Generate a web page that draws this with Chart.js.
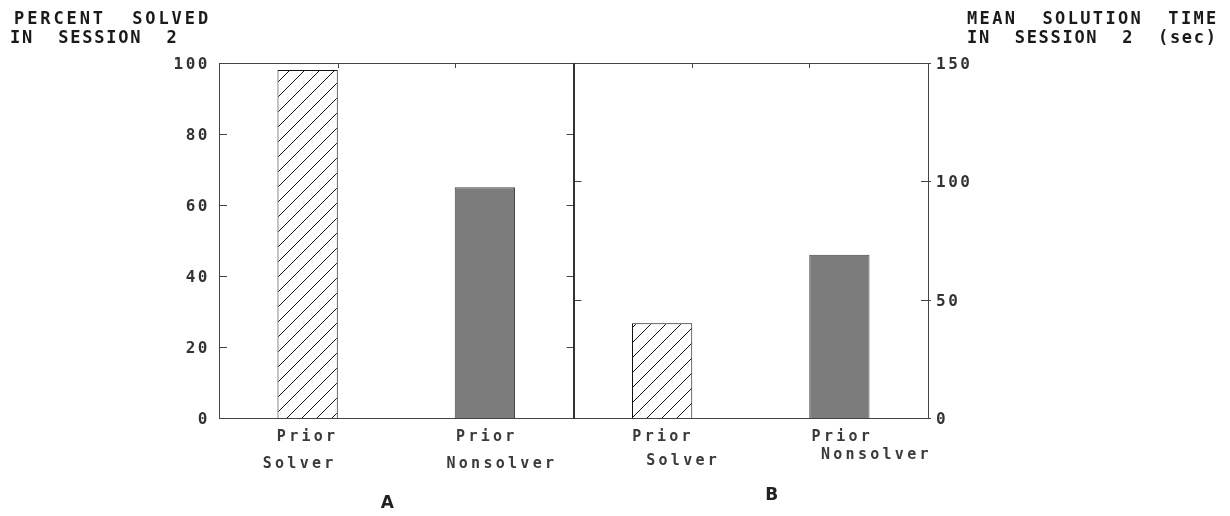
<!DOCTYPE html>
<html>
<head>
<meta charset="utf-8">
<script src="https://cdn.jsdelivr.net/npm/chart.js@4.4.1/dist/chart.umd.min.js"></script>
<style>
  body { margin: 0; background: #fff; }
  #wrap { position: relative; width: 1230px; height: 516px; }
  #chart { position: absolute; left: 0; top: 0; }
  .ttl { position: absolute; font-family: "DejaVu Sans Mono", monospace; font-size: 17px; font-weight: bold;
         color: #1a1a1a; white-space: pre; line-height: 19px; }
</style>
</head>
<body>
<div id="wrap">
  <canvas id="chart" width="1230" height="516"></canvas>
  <div class="ttl" style="left:14px; top:9px; letter-spacing:2.9px;">PERCENT  SOLVED</div>
  <div class="ttl" style="left:10px; top:28px; letter-spacing:1.8px;">IN  SESSION  2</div>
  <div class="ttl" style="left:967px; top:9px; letter-spacing:2.35px;">MEAN  SOLUTION  TIME</div>
  <div class="ttl" style="left:967px; top:28px; letter-spacing:1.7px;">IN  SESSION  2  (sec)</div>
</div>
<script>
// values
const categoryLabels = [['Prior', 'Solver'], ['Prior', 'Nonsolver'], ['Prior', 'Solver'], ['Prior', 'Nonsolver']];
const percentSolved = [98, 65];   // panel A, left axis
const meanTime = [40, 69];        // panel B, right axis (sec)
const percentTicks = [0, 20, 40, 60, 80, 100];
const timeTicks = [0, 50, 100, 150];
const panelLetters = ['A', 'B'];

const grey = 'rgb(124,124,124)';

// diagonal hatch fill for the "prior solver" bars
function makeHatch() {
  const c = document.createElement('canvas');
  c.width = 15; c.height = 15;
  const g = c.getContext('2d');
  g.fillStyle = '#fff';
  g.fillRect(0, 0, 15, 15);
  g.strokeStyle = '#111';
  g.lineWidth = 1;
  g.beginPath();
  g.moveTo(0, 15); g.lineTo(15, 0);
  g.moveTo(-1, 1); g.lineTo(1, -1);
  g.moveTo(14, 16); g.lineTo(16, 14);
  g.stroke();
  return g.createPattern(c, 'repeat');
}
const hatch = makeHatch();

// frame, tick marks, category labels and panel letters
const framePlugin = {
  id: 'frame',
  beforeDraw(chart) {
    chart.ctx.letterSpacing = '2.5px';
  },
  afterDraw(chart) {
    const ctx = chart.ctx;
    const a = chart.chartArea;
    const x = chart.scales.x, yA = chart.scales.yA, yB = chart.scales.yB;
    const mid = (x.getPixelForValue(1) + x.getPixelForValue(2)) / 2;
    ctx.save();
    ctx.strokeStyle = '#444';
    ctx.lineWidth = 1;
    ctx.beginPath();
    ctx.moveTo(a.left, a.top + 0.5); ctx.lineTo(a.right, a.top + 0.5);
    ctx.moveTo(a.left, a.bottom + 0.5); ctx.lineTo(a.right, a.bottom + 0.5);
    ctx.moveTo(a.left + 0.5, a.top); ctx.lineTo(a.left + 0.5, a.bottom);
    ctx.moveTo(a.right + 0.5, a.top); ctx.lineTo(a.right + 0.5, a.bottom);
    // left axis ticks (inside) and their mirror on the divider
    percentTicks.forEach(v => {
      const py = Math.round(yA.getPixelForValue(v)) + 0.5;
      ctx.moveTo(a.left, py); ctx.lineTo(a.left + 8, py);
      ctx.moveTo(mid - 7, py); ctx.lineTo(mid, py);
    });
    // right axis ticks and their mirror on the divider
    timeTicks.forEach(v => {
      const py = Math.round(yB.getPixelForValue(v)) + 0.5;
      ctx.moveTo(a.right - 7, py); ctx.lineTo(a.right + 3, py);
      ctx.moveTo(mid, py); ctx.lineTo(mid + 8, py);
    });
    // small ticks on the top line at the bar edges
    const m0 = chart.getDatasetMeta(0).data, m1 = chart.getDatasetMeta(1).data;
    const edges = [m0[0].x + m0[0].width / 2, m0[1].x - m0[1].width / 2,
                   m1[2].x + m1[2].width / 2, m1[3].x - m1[3].width / 2];
    edges.forEach(ex => {
      const px = Math.round(ex) + 0.5;
      ctx.moveTo(px, a.top); ctx.lineTo(px, a.top + 5);
    });
    ctx.stroke();

    // divider between the two panels
    ctx.strokeStyle = '#333';
    ctx.lineWidth = 2;
    ctx.beginPath();
    ctx.moveTo(Math.round(mid), a.top); ctx.lineTo(Math.round(mid), a.bottom + 1);
    ctx.stroke();

    // category labels
    const dx = [[0, -8], [2, 17], [1, 21], [3, 37]];
    const dy2 = [46, 46, 43, 37];
    ctx.fillStyle = '#3a3a3a';
    ctx.font = 'bold 15px "DejaVu Sans Mono"';
    ctx.letterSpacing = '3.3px';
    ctx.textAlign = 'center';
    ctx.textBaseline = 'middle';
    categoryLabels.forEach((lab, i) => {
      const cx = x.getPixelForValue(i);
      ctx.fillText(lab[0], cx + dx[i][0], a.bottom + 19);
      ctx.fillText(lab[1], cx + dx[i][1], a.bottom + dy2[i]);
    });

    // panel letters
    ctx.letterSpacing = '0px';
    ctx.font = 'bold 17px "DejaVu Sans"';
    ctx.fillStyle = '#222';
    const centres = [(a.left + mid) / 2 - 9, (mid + a.right) / 2 + 21];
    const ly = [a.bottom + 86, a.bottom + 78];
    panelLetters.forEach((t, i) => ctx.fillText(t, centres[i], ly[i]));
    ctx.restore();
  }
};

const tickFont = { family: 'DejaVu Sans Mono', size: 16, weight: 'bold' };

new Chart(document.getElementById('chart'), {
  type: 'bar',
  data: {
    labels: categoryLabels,
    datasets: [
      {
        data: percentSolved.concat([null, null]),
        yAxisID: 'yA',
        backgroundColor: [hatch, grey],
        borderColor: ['#111', '#444'],
        borderWidth: 1,
        grouped: false,
        barPercentage: 0.34,
        categoryPercentage: 1
      },
      {
        data: [null, null].concat(meanTime),
        yAxisID: 'yB',
        backgroundColor: [null, null, hatch, grey],
        borderColor: [null, null, '#111', '#444'],
        borderWidth: 1,
        grouped: false,
        barPercentage: 0.34,
        categoryPercentage: 1
      }
    ]
  },
  options: {
    responsive: false,
    animation: false,
    devicePixelRatio: 1,
    layout: { padding: { top: 63, bottom: 98, left: 0, right: 0 } },
    plugins: { legend: { display: false }, tooltip: { enabled: false } },
    scales: {
      x: { display: false },
      yA: {
        position: 'left',
        min: 0, max: 100,
        afterBuildTicks: s => { s.ticks = percentTicks.map(v => ({ value: v })); },
        afterFit: s => { s.width = 219; },
        grid: { display: false, drawTicks: false },
        border: { display: false },
        ticks: { padding: 9, labelOffset: 2, color: '#333', font: tickFont }
      },
      yB: {
        position: 'right',
        min: 0, max: 150,
        afterBuildTicks: s => { s.ticks = timeTicks.map(v => ({ value: v })); },
        afterFit: s => { s.width = 302; },
        grid: { display: false, drawTicks: false },
        border: { display: false },
        ticks: { padding: 8, labelOffset: 2, color: '#333', font: tickFont }
      }
    }
  },
  plugins: [framePlugin]
});
</script>
</body>
</html>
